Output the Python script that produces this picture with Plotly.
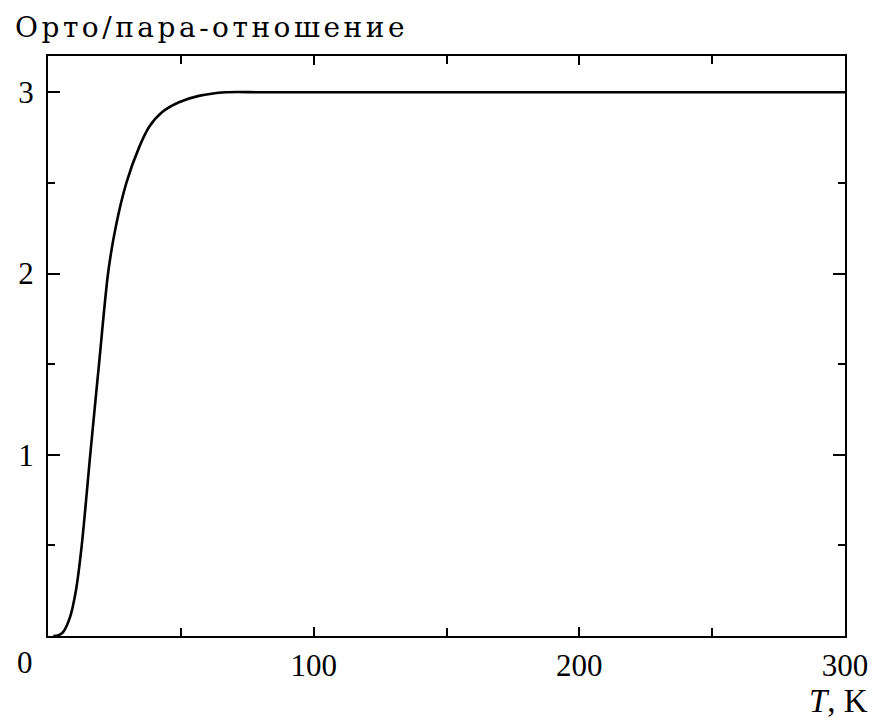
import plotly.graph_objects as go

# Data
temperature_K = [2.0, 3.7, 5.6, 8.2, 10.5, 12.7, 15.9, 19.2, 22.6, 25.4, 29.5, 34.4, 38.1,
                 42.9, 49.3, 56.8, 66.9, 80, 100, 150, 200, 250, 300]
ortho_para = [0.0, 0.003, 0.02, 0.10, 0.25, 0.50, 1.00, 1.50, 2.00, 2.25, 2.50, 2.70, 2.81,
              2.89, 2.945, 2.98, 3.0, 3.0, 3.0, 3.0, 3.0, 3.0, 3.0]

x_tick_vals = [0, 100, 200, 300]
x_tick_text = ["", "100", "200", "300"]
y_tick_vals = [0, 1, 2, 3]
y_tick_text = ["", "1", "2", "3"]

title_text = "Орто/пара-отношение"
x_label = "<i>T</i>, K"
corner_label = "0"

FONT = "Liberation Serif"
TFONT = "DejaVu Serif"
W, H = 880, 721
L, R, T, B = 48, 29, 56, 85
pw = W - L - R
ph = H - T - B

fig = go.Figure()
fig.add_trace(go.Scatter(
    x=temperature_K, y=ortho_para, mode="lines",
    line=dict(color="black", width=2.6, shape="spline", smoothing=0.8),
    hoverinfo="skip", showlegend=False,
))

fig.update_layout(
    width=W, height=H,
    margin=dict(l=L, r=R, t=T, b=B),
    paper_bgcolor="white", plot_bgcolor="white",
    font=dict(family=FONT, size=31, color="black"),
    xaxis=dict(
        range=[0, 300], tickmode="array", tickvals=x_tick_vals, ticktext=x_tick_text,
        ticks="inside", ticklen=9, tickwidth=1.5, tickcolor="black",
        showline=True, linecolor="black", linewidth=2, mirror="allticks",
        showgrid=False, zeroline=False, ticklabelstandoff=1,
        minor=dict(dtick=50, tick0=0, ticks="inside", ticklen=8, tickwidth=1.5, tickcolor="black"),
        tickfont=dict(family=FONT, size=31, color="black"),
    ),
    yaxis=dict(
        range=[0, 3.2], tickmode="array", tickvals=y_tick_vals, ticktext=y_tick_text,
        ticks="inside", ticklen=12, tickwidth=1.5, tickcolor="black",
        showline=True, linecolor="black", linewidth=2, mirror="allticks",
        showgrid=False, zeroline=False, ticklabelstandoff=6,
        minor=dict(dtick=0.5, tick0=0, ticks="inside", ticklen=7, tickwidth=1.5, tickcolor="black"),
        tickfont=dict(family=FONT, size=31, color="black"),
    ),
    annotations=[
        dict(text='<span style="letter-spacing:3.5px">' + title_text + '</span>',
             xref="paper", yref="paper",
             x=(13 - L) / pw, y=1 + 28 / ph, xanchor="left", yanchor="middle",
             showarrow=False, font=dict(family=TFONT, size=28, color="black")),
        dict(text=x_label, xref="paper", yref="paper",
             x=(876 - L) / pw, y=-65 / ph, xanchor="right", yanchor="middle",
             showarrow=False, font=dict(family=FONT, size=33, color="black")),
        dict(text=corner_label, xref="paper", yref="paper",
             x=(25 - L) / pw, y=-26 / ph, xanchor="center", yanchor="middle",
             showarrow=False, font=dict(family=FONT, size=31, color="black")),
    ],
)

fig.write_html("out.html")
